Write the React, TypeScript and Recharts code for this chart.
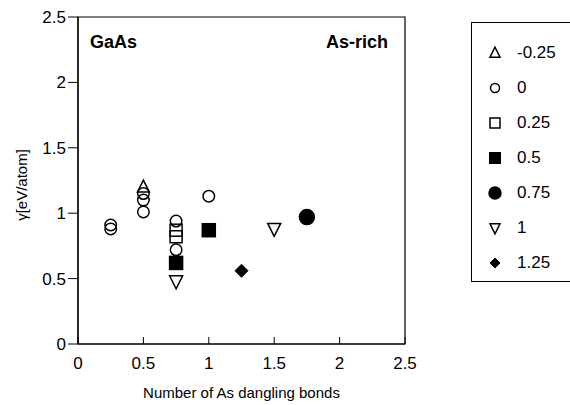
import React from 'react';
import { ScatterChart, Scatter, XAxis, YAxis, ReferenceArea, Legend, Customized } from 'recharts';

const xTicks = [0, 0.5, 1, 1.5, 2, 2.5];
const yTicks = [0, 0.5, 1, 1.5, 2, 2.5];

const seriesNames = ['-0.25', '0', '0.25', '0.5', '0.75', '1', '1.25'];

const sMinus025 = [{ x: 0.5, y: 1.2 }];
const s0 = [
  { x: 0.25, y: 0.91 },
  { x: 0.25, y: 0.88 },
  { x: 0.5, y: 1.15 },
  { x: 0.5, y: 1.1 },
  { x: 0.5, y: 1.01 },
  { x: 0.75, y: 0.94 },
  { x: 0.75, y: 0.72 },
  { x: 1, y: 1.13 },
];
const s025 = [
  { x: 0.75, y: 0.87 },
  { x: 0.75, y: 0.82 },
];
const s05 = [
  { x: 0.75, y: 0.62 },
  { x: 1, y: 0.87 },
];
const s075 = [{ x: 1.75, y: 0.97 }];
const s1 = [
  { x: 0.75, y: 0.48 },
  { x: 1.5, y: 0.88 },
];
const s125 = [{ x: 1.25, y: 0.56 }];

const seriesData = [sMinus025, s0, s025, s05, s075, s1, s125];

type Kind = 'triUp' | 'circle' | 'square' | 'triDown' | 'diamond';
const kinds: Kind[] = ['triUp', 'circle', 'square', 'square', 'circle', 'triDown', 'diamond'];
const filledFlags = [false, false, false, true, true, false, true];
const plotSizes = [12, 11.5, 12, 13, 15, 13, 13];
const legendSizes = [10, 9, 10, 10.5, 12, 10, 10];

const FONT = '"Liberation Sans", Arial, Helvetica, sans-serif';

function drawMarker(kind: Kind, filled: boolean, cx: number, cy: number, s: number, key?: string) {
  const fill = filled ? '#000' : 'none';
  const sw = 1.5;
  switch (kind) {
    case 'circle':
      return <circle key={key} cx={cx} cy={cy} r={s / 2} fill={fill} stroke="#000" strokeWidth={sw} />;
    case 'square':
      return <rect key={key} x={cx - s / 2} y={cy - s / 2} width={s} height={s} fill={fill} stroke="#000" strokeWidth={sw} />;
    case 'triUp':
      return (
        <polygon
          key={key}
          points={`${cx},${cy - s * 0.58} ${cx - s / 2},${cy + s * 0.42} ${cx + s / 2},${cy + s * 0.42}`}
          fill={fill}
          stroke="#000"
          strokeWidth={sw}
        />
      );
    case 'triDown':
      return (
        <polygon
          key={key}
          points={`${cx},${cy + s * 0.58} ${cx - s / 2},${cy - s * 0.42} ${cx + s / 2},${cy - s * 0.42}`}
          fill={fill}
          stroke="#000"
          strokeWidth={sw}
        />
      );
    case 'diamond':
      return (
        <polygon
          key={key}
          points={`${cx},${cy - s / 2} ${cx + s / 2},${cy} ${cx},${cy + s / 2} ${cx - s / 2},${cy}`}
          fill={fill}
          stroke="#000"
          strokeWidth={1}
        />
      );
  }
  return null;
}

const makeShape = (i: number) => (props: any) => {
  const { cx, cy } = props;
  if (cx == null || cy == null) return <g />;
  return drawMarker(kinds[i], filledFlags[i], cx, cy, plotSizes[i]);
};

const XTick = (props: any) => {
  const { x, y, payload } = props;
  const margin = 13;
  return (
    <g>
      <line x1={x} x2={x} y1={y - margin} y2={y - margin - 7} stroke="#000" strokeWidth={1} />
      <text x={x} y={y} dy="0.71em" textAnchor="middle" fontFamily={FONT} fontSize={17} fill="#000">
        {String(payload.value)}
      </text>
    </g>
  );
};

const renderLegend = () => (
  <div
    style={{
      borderLeft: '1.5px solid #000',
      borderTop: '1.5px solid #000',
      borderBottom: '1.5px solid #000',
      height: 260,
      boxSizing: 'border-box',
      paddingTop: 12,
      fontFamily: FONT,
      fontSize: 17,
      color: '#000',
    }}
  >
    {seriesNames.map((name, i) => (
      <div key={name} style={{ display: 'flex', alignItems: 'center', height: 35 }}>
        <svg width={45} height={20} style={{ display: 'block', flex: 'none' }}>
          {drawMarker(kinds[i], filledFlags[i], 23, 10, legendSizes[i])}
        </svg>
        <span style={{ lineHeight: '20px' }}>{name}</span>
      </div>
    ))}
  </div>
);

const Annotations = () => (
  <g>
    <text x={90} y={48} fontFamily={FONT} fontWeight="bold" fontSize={18} fill="#000">GaAs</text>
    <text x={388} y={48} textAnchor="end" fontFamily={FONT} fontWeight="bold" fontSize={18} fill="#000">As-rich</text>
  </g>
);

export default function App() {
  return (
    <div style={{ position: 'absolute', left: 0, top: 0, width: 570, height: 405, background: '#fff' }}>
      <ScatterChart width={570} height={405} margin={{ top: 17, right: 165, bottom: 0, left: 0 }}>
        <XAxis
          type="number"
          dataKey="x"
          domain={[0, 2.5]}
          ticks={xTicks}
          tickLine={false}
          tickSize={0}
          tickMargin={13}
          tick={<XTick />}
          axisLine={{ stroke: '#000', strokeWidth: 1.2 }}
          height={61}
          allowDataOverflow
          label={(p: any) => (
            <text x={241.5} y={398} textAnchor="middle" fontFamily={FONT} fontSize={15} fill="#000">
              Number of As dangling bonds
            </text>
          )}
        />
        <YAxis
          type="number"
          dataKey="y"
          domain={[0, 2.5]}
          ticks={yTicks}
          width={78}
          tickSize={10}
          tickMargin={2}
          tickLine={{ stroke: '#000' }}
          axisLine={{ stroke: '#000', strokeWidth: 1.2 }}
          tick={{ fill: '#000', fontFamily: FONT, fontSize: 17 }}
          allowDataOverflow
          label={(p: any) => (
            <text
              x={27}
              y={185}
              transform="rotate(-90, 27, 185)"
              textAnchor="middle"
              fontFamily={FONT}
              fontSize={15}
              fill="#000"
            >
              γ[eV/atom]
            </text>
          )}
        />
        <ReferenceArea x1={0} x2={2.5} y1={0} y2={2.5} fill="none" stroke="#000" strokeWidth={1.2} ifOverflow="visible" />
        {seriesData.map((d, i) => (
          <Scatter
            key={seriesNames[i]}
            name={seriesNames[i]}
            data={d}
            shape={makeShape(i)}
            isAnimationActive={false}
          />
        ))}
        <Customized component={Annotations} />
        <Legend
          layout="horizontal"
          verticalAlign="middle"
          align="center"
          content={renderLegend}
          wrapperStyle={{ left: 471, top: 22, width: 99 }}
        />
      </ScatterChart>
    </div>
  );
}
